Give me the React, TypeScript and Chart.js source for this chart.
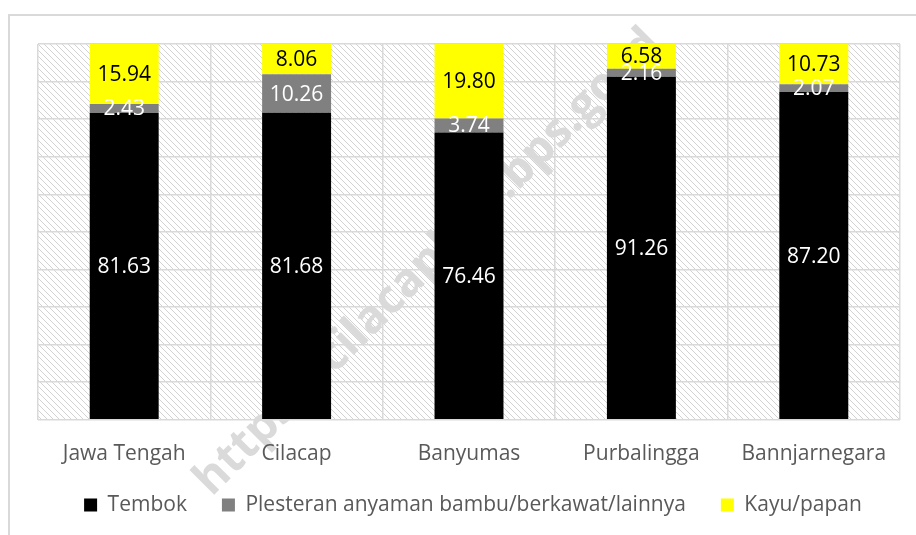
import React, { useEffect, useRef } from "react";
import { Chart, registerables } from "chart.js";

Chart.register(...registerables);

const categories = ["Jawa Tengah", "Cilacap", "Banyumas", "Purbalingga", "Bannjarnegara"];
const tembok = [81.63, 81.68, 76.46, 91.26, 87.2];
const plesteran = [2.43, 10.26, 3.74, 2.16, 2.07];
const kayu = [15.94, 8.06, 19.8, 6.58, 10.73];
const seriesNames = ["Tembok", "Plesteran anyaman bambu/berkawat/lainnya", "Kayu/papan"];
const watermarkText = "https://cilacapkab.bps.go.id";

const FONT = "'Open Sans', 'Noto Sans', sans-serif";

function makePattern(): CanvasPattern | string {
  const s = 6;
  const c = document.createElement("canvas");
  c.width = s;
  c.height = s;
  const g = c.getContext("2d");
  if (!g) return "#fff";
  g.fillStyle = "#ffffff";
  g.fillRect(0, 0, s, s);
  g.strokeStyle = "#d2d2d2";
  g.lineWidth = 1;
  g.beginPath();
  g.moveTo(-1, -1);
  g.lineTo(s + 1, s + 1);
  g.moveTo(-1, s - 1);
  g.lineTo(1, s + 1);
  g.moveTo(s - 1, -1);
  g.lineTo(s + 1, 1);
  g.stroke();
  const p = g.createPattern(c, "repeat");
  return p || "#fff";
}

function drawWatermark(ctx: CanvasRenderingContext2D) {
  ctx.save();
  const a = (-45 * Math.PI) / 180;
  ctx.font = `bold 40px ${FONT}`;
  const w = (s: string) => ctx.measureText(s).width;
  const hc = w("h") / 2;
  const oc = w("https://cilacapkab.bps.g") + w("o") / 2;
  const target = Math.hypot(598 - 207, 485 - 95);
  const fs = (40 * target) / (oc - hc);
  const scale = fs / 40;
  const ux = Math.cos(a);
  const uy = Math.sin(a);
  const px = -Math.sin(a);
  const py = Math.cos(a);
  const off = 0.32 * fs;
  const bx = 212 + off * px - hc * scale * ux;
  const by = 476 + off * py - hc * scale * uy;
  ctx.translate(bx, by);
  ctx.rotate(a);
  ctx.font = `bold ${fs.toFixed(1)}px ${FONT}`;
  ctx.fillStyle = "#dadada";
  ctx.textAlign = "left";
  ctx.textBaseline = "alphabetic";
  ctx.fillText(watermarkText, 0, 0);
  ctx.restore();
}

const bgPlugin = {
  id: "hatchBg",
  beforeDraw(chart: any) {
    const { ctx, chartArea } = chart;
    ctx.save();
    ctx.fillStyle = makePattern();
    ctx.fillRect(chartArea.left, chartArea.top, chartArea.right - chartArea.left, chartArea.bottom - chartArea.top);
    ctx.restore();
    drawWatermark(ctx);
  },
};

const legendShift = {
  id: "legendShift",
  afterLayout(chart: any) {
    const lg = chart.legend;
    if (!lg) return;
    const pad = lg.options.labels.padding;
    lg.top = 505 - pad - 10.5;
    lg.height = 90;
    lg.bottom = lg.top + 90;
    lg.left += 23;
    lg.right += 23;
  },
};

const labelColors = ["#ffffff", "#ffffff", "#000000"];

const labelPlugin = {
  id: "barLabels",
  afterDatasetsDraw(chart: any) {
    const ctx = chart.ctx;
    ctx.save();
    ctx.font = `21px ${FONT}`;
    ctx.textAlign = "center";
    ctx.textBaseline = "middle";
    chart.data.datasets.forEach((ds: any, di: number) => {
      const meta = chart.getDatasetMeta(di);
      meta.data.forEach((el: any, i: number) => {
        const v = ds.data[i] as number;
        const cy = (el.y + el.base) / 2;
        ctx.fillStyle = labelColors[di];
        ctx.fillText(v.toFixed(2), el.x, cy + 1);
      });
    });
    ctx.restore();
  },
};

export default function App() {
  const ref = useRef<HTMLCanvasElement>(null);
  useEffect(() => {
    if (!ref.current) return;
    const chart = new Chart(ref.current, {
      type: "bar",
      data: {
        labels: categories,
        datasets: [
          { label: seriesNames[0], data: tembok, backgroundColor: "#000000", barPercentage: 0.4, categoryPercentage: 1 },
          { label: seriesNames[1], data: plesteran, backgroundColor: "#808080", barPercentage: 0.4, categoryPercentage: 1 },
          { label: seriesNames[2], data: kayu, backgroundColor: "#ffff00", barPercentage: 0.4, categoryPercentage: 1 },
        ],
      },
      options: {
        responsive: false,
        animation: false,
        devicePixelRatio: 1,
        layout: { padding: { left: 0, top: 44, right: 16, bottom: 6 } },
        plugins: {
          legend: {
            position: "bottom",
            maxHeight: 40,
            labels: {
              boxWidth: 13,
              boxHeight: 13,
              padding: 35,
              color: "#595959",
              font: { family: FONT, size: 21 },
            },
          },
          tooltip: { enabled: false },
        },
        scales: {
          x: {
            stacked: true,
            grid: { color: "#d9d9d9", lineWidth: 1.5, offset: true, drawTicks: false },
            border: { display: false },
            ticks: { color: "#595959", font: { family: FONT, size: 21 }, padding: 22 },
          },
          y: {
            stacked: true,
            min: 0,
            max: 100,
            grid: { color: "#d9d9d9", lineWidth: 1.5, drawTicks: false },
            border: { display: false },
            ticks: { display: false, stepSize: 10 },
            afterFit: (scale: any) => {
              scale.width = 38;
            },
          },
        },
      },
      plugins: [bgPlugin, labelPlugin, legendShift],
    });
    return () => chart.destroy();
  }, []);
  return (
    <div style={{ position: "fixed", left: 0, top: 0, width: 916, height: 535, background: "#fff", overflow: "hidden" }}>
      <div
        style={{
          position: "absolute",
          left: 8,
          top: 14,
          width: 914,
          height: 530,
          border: "2px solid #d9d9d9",
          boxSizing: "border-box",
        }}
      />
      <canvas ref={ref} width={916} height={535} style={{ position: "absolute", left: 0, top: 0, width: 916, height: 535 }} />
    </div>
  );
}
